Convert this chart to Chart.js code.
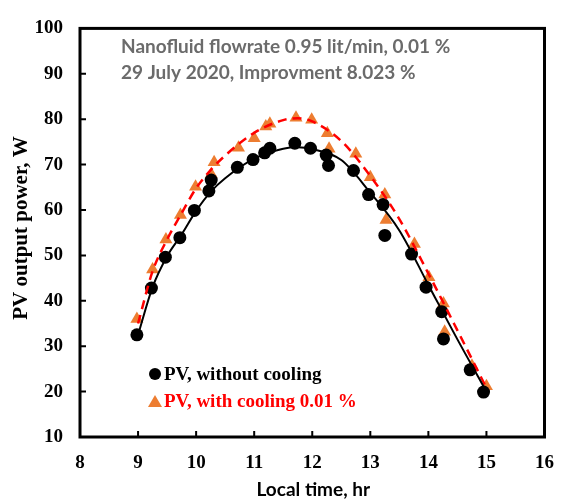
<!DOCTYPE html>
<html>
<head>
<meta charset="utf-8">
<script src="https://cdn.jsdelivr.net/npm/chart.js@4.4.1/dist/chart.umd.min.js"></script>
<style>
  html, body { margin: 0; padding: 0; background: #fff; }
  #wrap { position: relative; width: 569px; height: 503px; }
</style>
</head>
<body>
<div id="wrap"><canvas id="pvChart"></canvas></div>
<script>
// measured points (local time, hr / power, W)
const timeNoCool = [8.98, 9.23, 9.47, 9.72, 9.97, 10.22, 10.26, 10.71, 10.98, 11.18, 11.27, 11.7, 11.97, 12.24, 12.28, 12.71, 12.97, 13.22, 13.25, 13.71, 13.96, 14.23, 14.26, 14.72, 14.95];
const powerNoCool = [32.5, 42.8, 49.6, 53.9, 59.9, 64.2, 66.6, 69.4, 71.1, 72.6, 73.6, 74.7, 73.6, 72.1, 69.8, 68.7, 63.4, 61.2, 54.4, 50.3, 43.0, 37.6, 31.6, 24.8, 19.9];
const timeCool = [8.98, 9.25, 9.48, 9.73, 9.99, 10.26, 10.31, 10.73, 11.0, 11.2, 11.27, 11.72, 11.99, 12.26, 12.29, 12.75, 13.0, 13.25, 13.27, 13.76, 14.01, 14.26, 14.28, 14.75, 15.0];
const powerCool = [36.0, 46.9, 53.5, 58.9, 65.1, 67.9, 70.5, 73.7, 75.8, 78.4, 79.0, 80.3, 79.9, 76.9, 73.5, 72.4, 67.2, 63.4, 57.8, 52.5, 45.2, 39.4, 33.2, 25.7, 21.2];

// trend curves
const fitTime = [9, 9.25, 9.5, 9.75, 10, 10.25, 10.5, 11, 11.5, 11.75, 12, 12.5, 13, 13.5, 14, 14.5, 15];
const fitNoCool = [32.5, 43, 49.8, 54.6, 59.8, 64, 67, 71.3, 73.5, 73.8, 73.4, 71, 63.8, 55.5, 43.5, 31.5, 20];
const fitCool = [35, 46.5, 53.5, 59.3, 64.8, 68.8, 72, 77, 79.8, 80.2, 79.5, 75.2, 67.5, 58, 46, 33.5, 20.8];

const xTicks = [8, 9, 10, 11, 12, 13, 14, 15, 16];
const yTicks = [10, 20, 30, 40, 50, 60, 70, 80, 90, 100];

const noteLines = ['Nanofluid flowrate 0.95 lit/min, 0.01 %', '29 July 2020, Improvment 8.023 %'];
const legendItems = ['PV, without cooling', 'PV, with cooling 0.01 %'];

const ORANGE = '#ED7D31';
const SERIF = '"Liberation Serif", "Times New Roman", serif';
const SANS = 'Lato, "Open Sans", sans-serif';

function pairs(xs, ys) {
  return xs.map((x, i) => ({ x: x, y: ys[i] }));
}

const decorPlugin = {
  id: 'decor',
  afterDraw(chart) {
    const ctx = chart.ctx;
    const a = chart.chartArea;
    const xs = chart.scales.x;
    const ys = chart.scales.y;
    ctx.save();

    // frame
    ctx.strokeStyle = '#000';
    ctx.lineWidth = 3;
    ctx.strokeRect(a.left, a.top, a.right - a.left, a.bottom - a.top);

    // inward ticks
    ctx.lineWidth = 2;
    ctx.beginPath();
    xTicks.slice(1, -1).forEach(v => {
      const px = xs.getPixelForValue(v);
      ctx.moveTo(px, a.bottom);
      ctx.lineTo(px, a.bottom - 6);
    });
    yTicks.slice(1, -1).forEach(v => {
      const py = ys.getPixelForValue(v);
      ctx.moveTo(a.left, py);
      ctx.lineTo(a.left + 6, py);
    });
    ctx.stroke();

    // axis titles
    ctx.fillStyle = '#000';
    ctx.textAlign = 'center';
    ctx.textBaseline = 'middle';
    ctx.font = 'bold 19px ' + SANS;
    ctx.fillText('Local time, hr', (a.left + a.right) / 2 + 1, 490, 132);
    ctx.save();
    ctx.translate(22, 228);
    ctx.rotate(-Math.PI / 2);
    ctx.font = 'bold 21px ' + SERIF;
    ctx.fillText('PV output power, W', 0, 0, 202);
    ctx.restore();

    // note
    ctx.textAlign = 'left';
    ctx.fillStyle = '#6b6b6b';
    ctx.font = 'bold 19px ' + SANS;
    ctx.fillText(noteLines[0], 121, 47, 369);
    ctx.fillText(noteLines[1], 121, 73, 322);

    // legend
    ctx.font = 'bold 19px ' + SERIF;
    ctx.fillStyle = '#000';
    ctx.beginPath();
    ctx.arc(155, 374, 6, 0, Math.PI * 2);
    ctx.fill();
    ctx.fillText(legendItems[0], 164, 375, 169);
    ctx.fillStyle = ORANGE;
    ctx.beginPath();
    ctx.moveTo(155, 395);
    ctx.lineTo(162, 407);
    ctx.lineTo(148, 407);
    ctx.closePath();
    ctx.fill();
    ctx.fillStyle = '#FF0000';
    ctx.fillText(legendItems[1], 164, 402, 208);

    ctx.restore();
  }
};

new Chart(document.getElementById('pvChart').getContext('2d'), {
  type: 'scatter',
  data: {
    datasets: [{
      label: legendItems[1],
      data: pairs(timeCool, powerCool),
      pointStyle: 'triangle',
      pointRadius: 7.5,
      pointHoverRadius: 7.5,
      backgroundColor: ORANGE,
      borderColor: ORANGE,
      borderWidth: 0,
      order: 4
    }, {
      label: legendItems[0],
      data: pairs(timeNoCool, powerNoCool),
      pointStyle: 'circle',
      pointRadius: 6.5,
      pointHoverRadius: 6.5,
      backgroundColor: '#000',
      borderColor: '#000',
      borderWidth: 0,
      order: 3
    }, {
      label: 'fit cooling',
      data: pairs(fitTime, fitCool),
      showLine: true,
      pointRadius: 0,
      borderColor: '#FF0000',
      borderWidth: 2.5,
      borderDash: [9, 6],
      tension: 0.4,
      cubicInterpolationMode: 'monotone',
      order: 2
    }, {
      label: 'fit no cooling',
      data: pairs(fitTime, fitNoCool),
      showLine: true,
      pointRadius: 0,
      borderColor: '#000',
      borderWidth: 2,
      tension: 0.4,
      cubicInterpolationMode: 'monotone',
      order: 1
    }]
  },
  options: {
    responsive: true,
    maintainAspectRatio: false,
    animation: false,
    events: [],
    layout: { padding: { top: 17, right: 14, left: 0, bottom: 0 } },
    plugins: {
      legend: { display: false },
      tooltip: { enabled: false }
    },
    scales: {
      x: {
        type: 'linear',
        min: 8,
        max: 16,
        afterBuildTicks: s => { s.ticks = xTicks.map(v => ({ value: v })); },
        afterFit: s => { s.height = 66; },
        grid: { display: false, drawTicks: false },
        border: { display: false },
        ticks: {
          padding: 15,
          color: '#000',
          font: { family: SERIF, size: 19, weight: 'bold' }
        }
      },
      y: {
        type: 'linear',
        min: 10,
        max: 100,
        afterBuildTicks: s => { s.ticks = yTicks.map(v => ({ value: v })); },
        afterFit: s => { s.width = 80; },
        grid: { display: false, drawTicks: false },
        border: { display: false },
        ticks: {
          padding: 17,
          color: '#000',
          font: { family: SERIF, size: 19, weight: 'bold' }
        }
      }
    }
  },
  plugins: [decorPlugin]
});
</script>
</body>
</html>
